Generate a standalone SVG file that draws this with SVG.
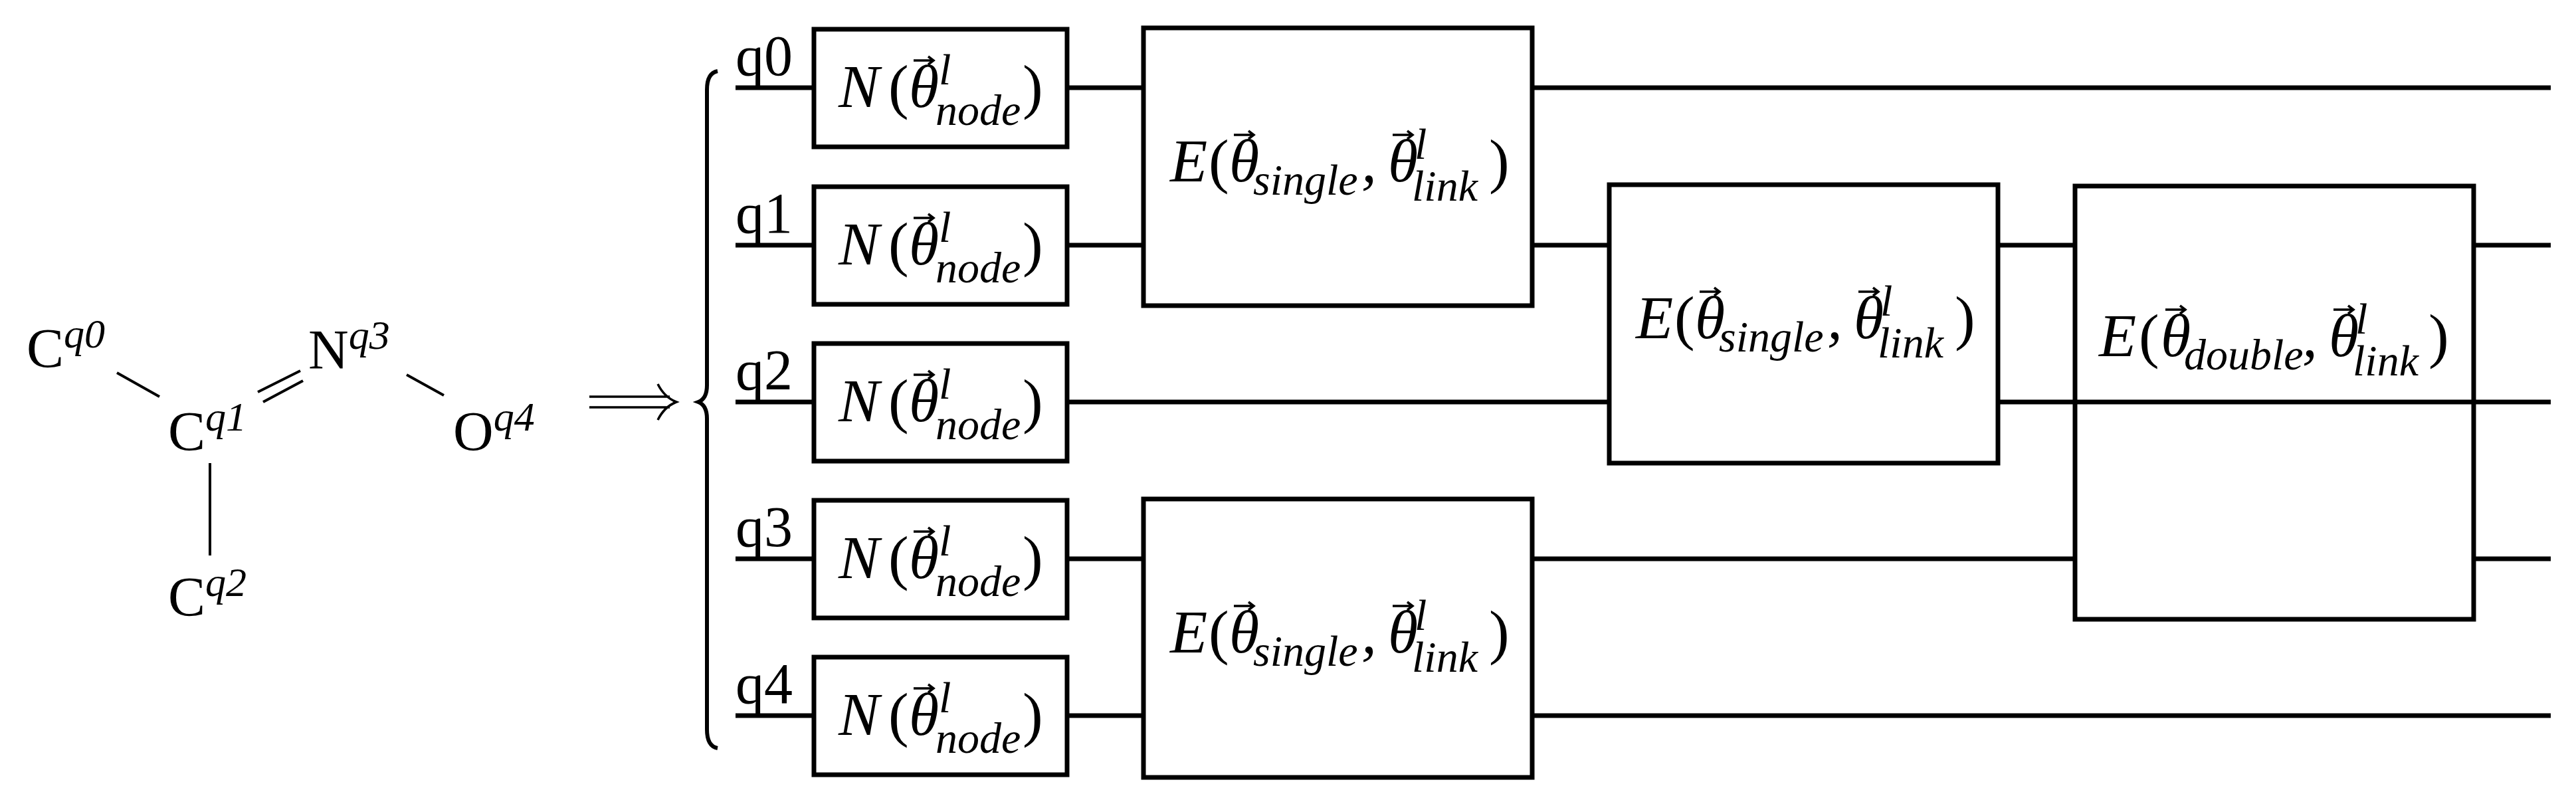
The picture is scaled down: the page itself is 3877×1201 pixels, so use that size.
<svg xmlns="http://www.w3.org/2000/svg" width="3877" height="1201" viewBox="0 0 3877 1201">
<style>
.w{stroke:#000;stroke-width:7;fill:none}
.b{stroke:#000;stroke-width:7;fill:#fff}
.t{font-family:"Liberation Serif",serif;fill:#000}
.i{font-style:italic}
.n{font-style:normal}
.s{font-size:66px}
.m{stroke:#000;stroke-width:4;fill:none}
.v{stroke:#000;stroke-width:3.5;fill:none}
</style>
<defs>
<path id="vec" d="M0 0 H30 M22 -6 L30 0 L22 6" class="v"/>
<g id="Nlab">
<text class="t i" font-size="92"><tspan x="37" y="0">N</tspan><tspan class="n" x="112" y="0">(</tspan><tspan x="143" y="0">θ</tspan><tspan class="s" x="188" y="-34">l</tspan><tspan class="s" x="183" y="27">node</tspan><tspan class="n" x="314" y="0">)</tspan></text>
<use href="#vec" x="150" y="-70"/>
</g>
<g id="Es">
<text class="t i" font-size="92"><tspan x="40" y="0">E</tspan><tspan class="n" x="98" y="0">(</tspan><tspan x="129" y="0">θ</tspan><tspan class="s" x="165" y="20">single</tspan><tspan x="328" y="0">,</tspan><tspan x="368" y="0">θ</tspan><tspan class="s" x="408" y="-34">l</tspan><tspan class="s" x="404" y="29">link</tspan><tspan class="n" x="520" y="0">)</tspan></text>
<use href="#vec" x="136" y="-70"/><use href="#vec" x="375" y="-70"/>
</g>
<g id="Ed">
<text class="t i" font-size="92"><tspan x="36" y="0">E</tspan><tspan class="n" x="96" y="0">(</tspan><tspan x="129" y="0">θ</tspan><tspan class="s" x="164" y="20">double</tspan><tspan x="342" y="0">,</tspan><tspan x="382" y="0">θ</tspan><tspan class="s" x="422" y="-34">l</tspan><tspan class="s" x="418" y="29">link</tspan><tspan class="n" x="532" y="0">)</tspan></text>
<use href="#vec" x="136" y="-70"/><use href="#vec" x="389" y="-70"/>
</g>
</defs>
<rect width="3877" height="1201" fill="#fff"/>
<g id="molecule">
<text class="t" x="40" y="553" font-size="84">C<tspan class="i" font-size="62" dy="-30">q0</tspan></text>
<text class="t" x="253" y="678" font-size="84">C<tspan class="i" font-size="62" dy="-30">q1</tspan></text>
<text class="t" x="464" y="555" font-size="84">N<tspan class="i" font-size="62" dy="-30">q3</tspan></text>
<text class="t" x="682" y="678" font-size="84">O<tspan class="i" font-size="62" dy="-30">q4</tspan></text>
<text class="t" x="253" y="927" font-size="84">C<tspan class="i" font-size="62" dy="-30">q2</tspan></text>
<line class="m" x1="176" y1="561" x2="240" y2="597"/>
<line class="m" x1="388" y1="590" x2="452" y2="558"/>
<line class="m" x1="396" y1="605" x2="456" y2="573"/>
<line class="m" x1="612" y1="564" x2="668" y2="595"/>
<line class="m" x1="316" y1="697" x2="316" y2="836"/>
</g>
<g id="arrow">
<path class="v" d="M887 597 H1008 M887 613 H1008 M990 578 Q1000 598 1018 605 Q1000 612 990 632"/>
</g>
<g id="brace">
<path d="M1080 107 Q1064 110 1064 135 V580 Q1064 600 1051 605 Q1064 610 1064 630 V1098 Q1064 1123 1080 1126" stroke="#000" stroke-width="6" fill="none"/>
</g>
<g id="connectors">
<line class="w" x1="1107" y1="132" x2="3839" y2="132"/>
<line class="w" x1="1107" y1="369" x2="3839" y2="369"/>
<line class="w" x1="1107" y1="605" x2="3839" y2="605"/>
<line class="w" x1="1107" y1="841" x2="3123" y2="841"/>
<line class="w" x1="3723" y1="841" x2="3839" y2="841"/>
<line class="w" x1="1107" y1="1077" x2="3839" y2="1077"/>
</g>
<g id="labels">
<text class="t" x="1107" y="113" font-size="86">q0</text>
<text class="t" x="1107" y="350" font-size="86">q1</text>
<text class="t" x="1107" y="586" font-size="86">q2</text>
<text class="t" x="1107" y="822" font-size="86">q3</text>
<text class="t" x="1107" y="1058" font-size="86">q4</text>
</g>
<g id="N0"><rect class="b" x="1225" y="44" width="381" height="177"/><use href="#Nlab" x="1225" y="161"/></g>
<g id="N1"><rect class="b" x="1225" y="281" width="381" height="177"/><use href="#Nlab" x="1225" y="398"/></g>
<g id="N2"><rect class="b" x="1225" y="517" width="381" height="177"/><use href="#Nlab" x="1225" y="634"/></g>
<g id="N3"><rect class="b" x="1225" y="753" width="381" height="177"/><use href="#Nlab" x="1225" y="870"/></g>
<g id="N4"><rect class="b" x="1225" y="989" width="381" height="177"/><use href="#Nlab" x="1225" y="1106"/></g>
<g id="E01"><rect class="b" x="1721" y="42" width="585" height="418"/><use href="#Es" x="1721" y="273"/></g>
<g id="E34"><rect class="b" x="1721" y="751" width="585" height="419"/><use href="#Es" x="1721" y="982"/></g>
<g id="E12"><rect class="b" x="2422" y="278" width="585" height="419"/><use href="#Es" x="2422" y="509"/></g>
<g id="E123"><rect class="b" x="3123" y="280" width="600" height="652"/><line class="w" x1="3123" y1="605" x2="3723" y2="605"/><use href="#Ed" x="3123" y="536"/></g>
</svg>
